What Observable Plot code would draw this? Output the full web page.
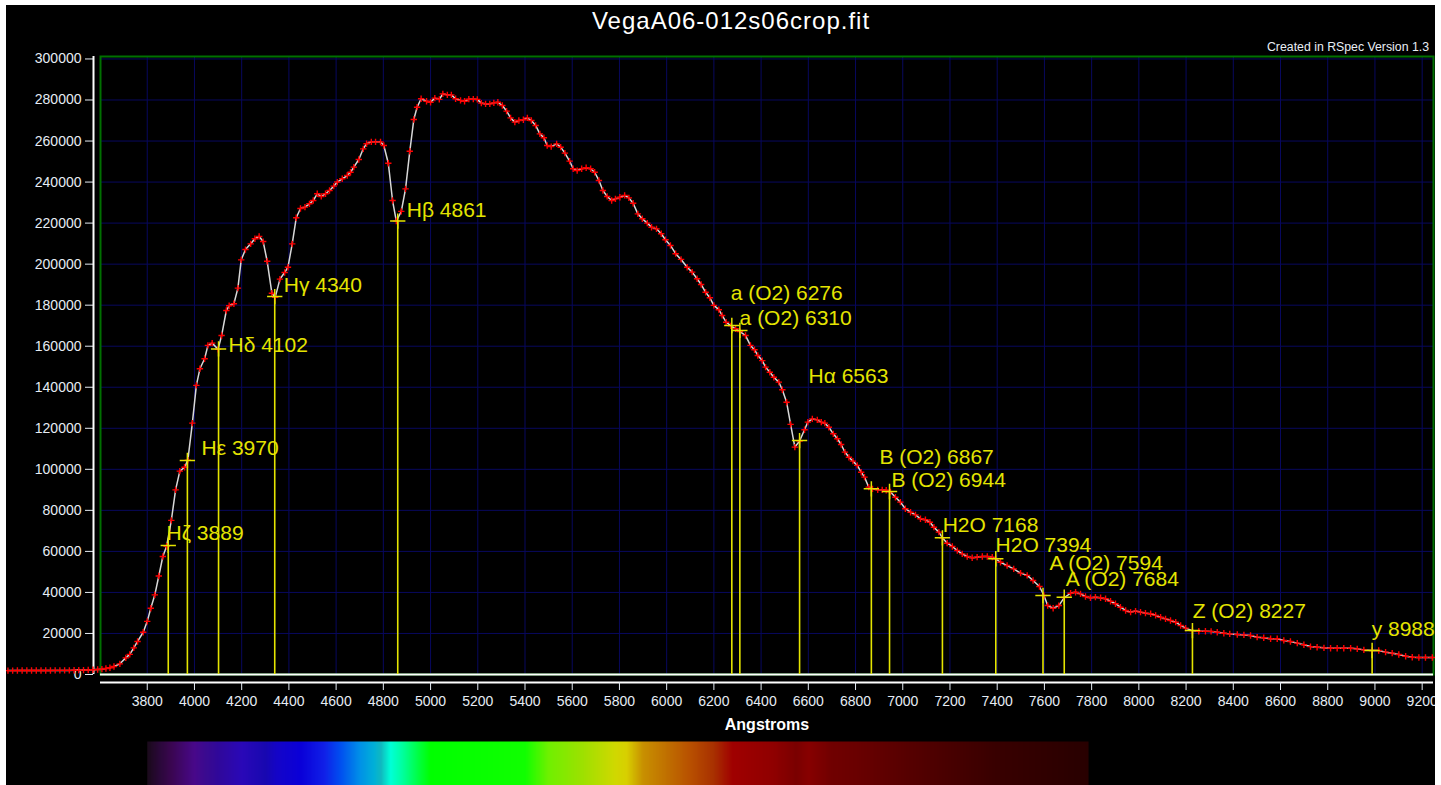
<!DOCTYPE html>
<html>
<head>
<meta charset="utf-8">
<script src="https://cdn.jsdelivr.net/npm/d3@7"></script>
<script src="https://cdn.jsdelivr.net/npm/@observablehq/plot@0.6"></script>
<style>
  html, body { margin: 0; padding: 0; background: #ffffff; width: 1441px; height: 785px; overflow: hidden; }
  #panel { position: absolute; left: 6px; top: 5px; width: 1429px; height: 780px; background: #000; overflow: hidden;
           font-family: "Liberation Sans", Arial, sans-serif; }
  #title { position: absolute; left: 725px; top: 2px; transform: translateX(-50%); color: #ffffff; font-size: 24px; letter-spacing: 1px; line-height: 28px; white-space: nowrap; }
  #credit { position: absolute; right: 6px; top: 35px; color: #e8eef5; font-size: 12.3px; line-height: 14px; white-space: nowrap; }
  #chart { position: absolute; left: 0; top: 0; }
  #bar { position: absolute; left: 0; top: 736px; }
</style>
</head>
<body>
<div id="panel">
  <div id="chart"></div>
  <div id="bar"></div>
  <div id="title">VegaA06-012s06crop.fit</div>
  <div id="credit">Created in RSpec Version 1.3</div>
</div>
<script>
// ---- Spectrum (wavelength in Angstroms, flux in counts) ----
const wavelength = [
  3210,3230,3250,3270,3290,3310,3330,3350,3370,3390,3410,3430,3450,3470,3490,3510,3530,3550,3570,3590,
  3608,3625,3642,3659,3684,3709,3726,3743,3759,3783,3800,3815,3832,3849,3866,3882,3902,3920,3938,3958,
  3972,3991,4008,4023,4043,4057,4075,4100,4115,4135,4147,4167,4184,4198,4216,4238,4256,4274,4291,4308,
  4328,4342,4362,4382,4396,4414,4431,4449,4468,4487,4503,4520,4537,4555,4572,4590,4605,4626,4647,4661,
  4675,4696,4715,4729,4749,4767,4788,4802,4821,4839,4855,4876,4894,4912,4929,4943,4960,4983,5000,5018,
  5037,5052,5071,5088,5106,5127,5144,5162,5181,5198,5215,5233,5251,5268,5285,5304,5322,5339,5357,5374,
  5393,5410,5427,5445,5463,5480,5494,5511,5534,5551,5569,5589,5604,5621,5640,5659,5678,5695,5713,5730,
  5748,5767,5783,5802,5822,5840,5858,5878,5897,5918,5936,5957,5977,5995,6016,6038,6061,6087,6108,6129,
  6146,6165,6183,6200,6221,6235,6252,6272,6292,6310,6334,6355,6372,6386,6405,6419,6437,6454,6475,6490,
  6508,6525,6543,6563,6584,6598,6617,6638,6655,6670,6687,6706,6723,6739,6755,6772,6789,6807,6824,6838,
  6856,6872,6894,6913,6930,6948,6969,6990,7011,7033,7054,7075,7096,7115,7132,7153,7168,7188,7210,7231,
  7252,7273,7294,7315,7337,7358,7379,7394,7414,7442,7470,7499,7527,7552,7579,7598,7614,7637,7661,7684,
  7711,7732,7753,7774,7795,7816,7838,7859,7880,7901,7922,7944,7965,7986,8007,8028,8050,8071,8092,8113,
  8134,8156,8177,8198,8227,8254,8282,8306,8332,8360,8385,8417,8445,8473,8501,8529,8558,8586,8614,8642,
  8671,8699,8727,8755,8784,8812,8840,8868,8897,8925,8953,8988,9016,9045,9073,9101,9130,9158,9186,9214,
  9243
];
const flux = [
  1900,1900,1950,1950,1950,1950,1950,1950,1950,1950,2000,2000,2000,2000,2050,2100,2150,2200,2300,2450,
  2600,2900,3300,3900,5200,8100,9800,13000,16100,20600,25900,32300,38800,48000,57500,62500,75100,90000,99100,101000,
  104500,122500,140900,149000,153900,160400,161500,158500,165200,177400,179700,180700,188300,202100,207100,209900,212400,213500,211000,201400,
  185800,183800,192700,195900,198500,209900,222600,227100,227800,229400,231000,234300,233000,234300,235900,238000,240000,241600,243200,244800,
  247300,251000,256200,258700,259600,259600,259600,257800,249200,231000,221000,225700,236700,255000,270500,276500,280600,279400,278900,280900,
  280300,283000,282500,282500,280600,279800,279400,280400,280400,280300,278500,278100,278100,278600,278900,277300,274600,271300,269200,270000,
  270400,271300,270000,267600,263500,261600,257800,257300,258600,257000,254100,250200,246500,245600,246500,247000,246500,244800,240800,235900,
  233000,231000,231800,232600,233500,232300,229700,224500,222100,220000,218000,217200,214800,211900,209100,205100,202300,198500,196100,192900,
  190100,186300,183600,179900,177800,175000,171700,169900,168500,167200,165200,160400,158300,155500,153000,149800,147300,144900,142500,138800,
  132700,121900,110800,113800,119300,123000,124600,124100,123000,122500,120500,117300,114900,112100,108400,105900,104000,101900,98600,96200,
  91300,90500,90000,90000,89800,89000,86400,84000,80800,79100,77800,75900,75400,74200,71800,69400,66600,64000,62400,60400,
  58800,57500,56900,57200,57500,57500,57200,56400,54700,53100,51500,49400,48300,45800,42900,38500,33600,32300,33600,37500,
  39600,40100,39300,38000,37400,37700,37400,36900,35700,34500,32800,31200,30400,30900,30400,29900,29600,28800,27900,27100,
  26300,25500,23900,22600,21400,21100,21100,21000,20600,20100,19800,19500,19300,19000,18200,17900,17400,17400,16600,16100,
  15300,14500,13600,13300,13000,12800,12800,12800,12800,12500,12000,11700,11700,10900,10400,9750,8900,8400,8300,8300,
  8300
];

// ---- Identified lines ----
const lineLabel  = ["Hζ 3889","Hε 3970","Hδ 4102","Hγ 4340","Hβ 4861","a (O2) 6276","a (O2) 6310","Hα 6563",
                    "B (O2) 6867","B (O2) 6944","H2O 7168","H2O 7394","A (O2) 7594","A (O2) 7684","Z (O2) 8227","y 8988"];
const lineLambda = [3889,3970,4102,4340,4861,6276,6310,6563,6867,6944,7168,7394,7594,7684,8227,8988];
const lineFlux   = [62900,104300,158700,184200,221000,170100,167700,114000,90500,89200,66600,56400,38500,37700,21400,11700];
// label anchor (data units) as placed by RSpec
const labelLambda = [3882,4030,4144,4378,4899,6271,6309,6601,6901,6952,7169,7393,7622,7690,8228,8986];
const labelFlux   = [68700,110200,160400,189600,226200,185700,173500,145200,105800,94600,72600,62900,54100,46300,30700,21900];

// ---- Axis ticks ----
const xTicks = [3800,4000,4200,4400,4600,4800,5000,5200,5400,5600,5800,6000,6200,6400,6600,6800,7000,7200,7400,7600,7800,8000,8200,8400,8600,8800,9000,9200];
const yTicks = [0,20000,40000,60000,80000,100000,120000,140000,160000,180000,200000,220000,240000,260000,280000,300000];

// ---- Colour strip (spectrum) ----
const stripLambda = [3800,3850,3900,4000,4050,4100,4200,4300,4350,4450,4550,4620,4700,4760,4790,4830,4880,4950,5000,5400,
                     5500,5650,5780,5830,5900,6000,6100,6200,6280,6450,6550,6600,6700,6800,7000,7200,7400,7600,7787];
const stripColor  = ["#1a0a1a","#2a0838","#3a0650","#48088a","#3a0a90","#30089a","#2a08b8","#1808b0","#1404c8","#0a00d8","#1020e8","#0050f0","#0090e8","#00b0d8","#10b8c0","#00ffd8","#00ffa0","#00ff40","#00ff00","#10ff00",
                     "#70f000","#a0e000","#d0d800","#d8d000","#c89000","#c07000","#b85000","#a83000","#a00000","#900000","#7a0000","#880000","#700000","#6a0000","#580000","#480000","#380000","#300000","#280000"];

const spectrum = wavelength.map((w, i) => ({w, f: flux[i]}));
const lines = lineLambda.map((w, i) => ({w, f: lineFlux[i], label: lineLabel[i], lw: labelLambda[i], lf: labelFlux[i]}));

const XDOM = [3602, 9248];
const YDOM = [0, 301200];
const YELLOW = "#e4e400";
const TEXT = "#e6ecf4";
const GRID = "#08085e";

const chart = Plot.plot({
  width: 1429, height: 736,
  marginLeft: 94, marginRight: 2, marginTop: 51, marginBottom: 67,
  style: {background: "transparent", color: TEXT, fontFamily: "'Liberation Sans', Arial, sans-serif", fontSize: "14px", overflow: "visible"},
  x: {domain: XDOM},
  y: {domain: YDOM},
  marks: [
    Plot.gridX(xTicks, {stroke: GRID, strokeOpacity: 1, strokeWidth: 1}),
    Plot.gridY(yTicks.filter(d => d > 0), {stroke: GRID, strokeOpacity: 1, strokeWidth: 1}),
    Plot.frame({stroke: "#007000", strokeWidth: 2}),
    Plot.ruleY([0], {stroke: "#ffffff", strokeWidth: 2}),
    Plot.ruleY([0], {stroke: "#ffffff", strokeWidth: 2, dy: 8}),
    Plot.axisX(xTicks, {tickSize: 8, dy: 8, tickPadding: 6, tickFormat: d => String(d), color: TEXT, fontSize: 14, label: null}),
    Plot.axisY(yTicks, {tickSize: 8, dx: -7, tickPadding: 4, tickFormat: d => String(d), color: TEXT, fontSize: 14, label: null}),
    Plot.ruleX([XDOM[0]], {y1: 0, y2: YDOM[1], dx: -7, stroke: "#ffffff", strokeWidth: 2}),
    Plot.text(["Angstroms"], {frameAnchor: "bottom", dy: 55, fontWeight: "bold", fontSize: 16, fill: "#ffffff"}),
    Plot.ruleX(lines, {x: "w", y1: 0, y2: "f", stroke: YELLOW, strokeWidth: 1.6}),
    Plot.line(spectrum, {x: "w", y: "f", stroke: "#d8d8d8", strokeWidth: 1.5}),
    Plot.dot(spectrum, {x: "w", y: "f", symbol: "plus", r: 2.2, stroke: "#ff0000", strokeWidth: 1.4}),
    Plot.dot(lines, {x: "w", y: "f", symbol: "plus", r: 5, stroke: YELLOW, strokeWidth: 1.5}),
    Plot.text(lines, {x: "lw", y: "lf", text: "label", textAnchor: "start", fontSize: 21, fill: YELLOW})
  ]
});
document.getElementById("chart").appendChild(chart);

const stripMarks = (typeof Plot.raster === "function")
  ? [Plot.raster({x1: stripLambda[0], x2: stripLambda[stripLambda.length - 1], y1: 0, y2: 1, width: 1000, height: 1,
                  fill: (x, y) => x, imageRendering: "auto"})]
  : [Plot.rect(d3.range(stripLambda[0], stripLambda[stripLambda.length - 1], 3),
               {x1: d => d, x2: d => d + 3.5, y1: 0, y2: 1, fill: d => d + 1.5})];

const bar = Plot.plot({
  width: 1429, height: 44,
  marginLeft: 94, marginRight: 2, marginTop: 0, marginBottom: 0,
  style: {background: "transparent"},
  x: {domain: XDOM, axis: null},
  y: {domain: [0, 1], axis: null},
  color: {type: "linear", domain: stripLambda, range: stripColor, interpolate: "rgb"},
  marks: stripMarks
});
document.getElementById("bar").appendChild(bar);
</script>
</body>
</html>
